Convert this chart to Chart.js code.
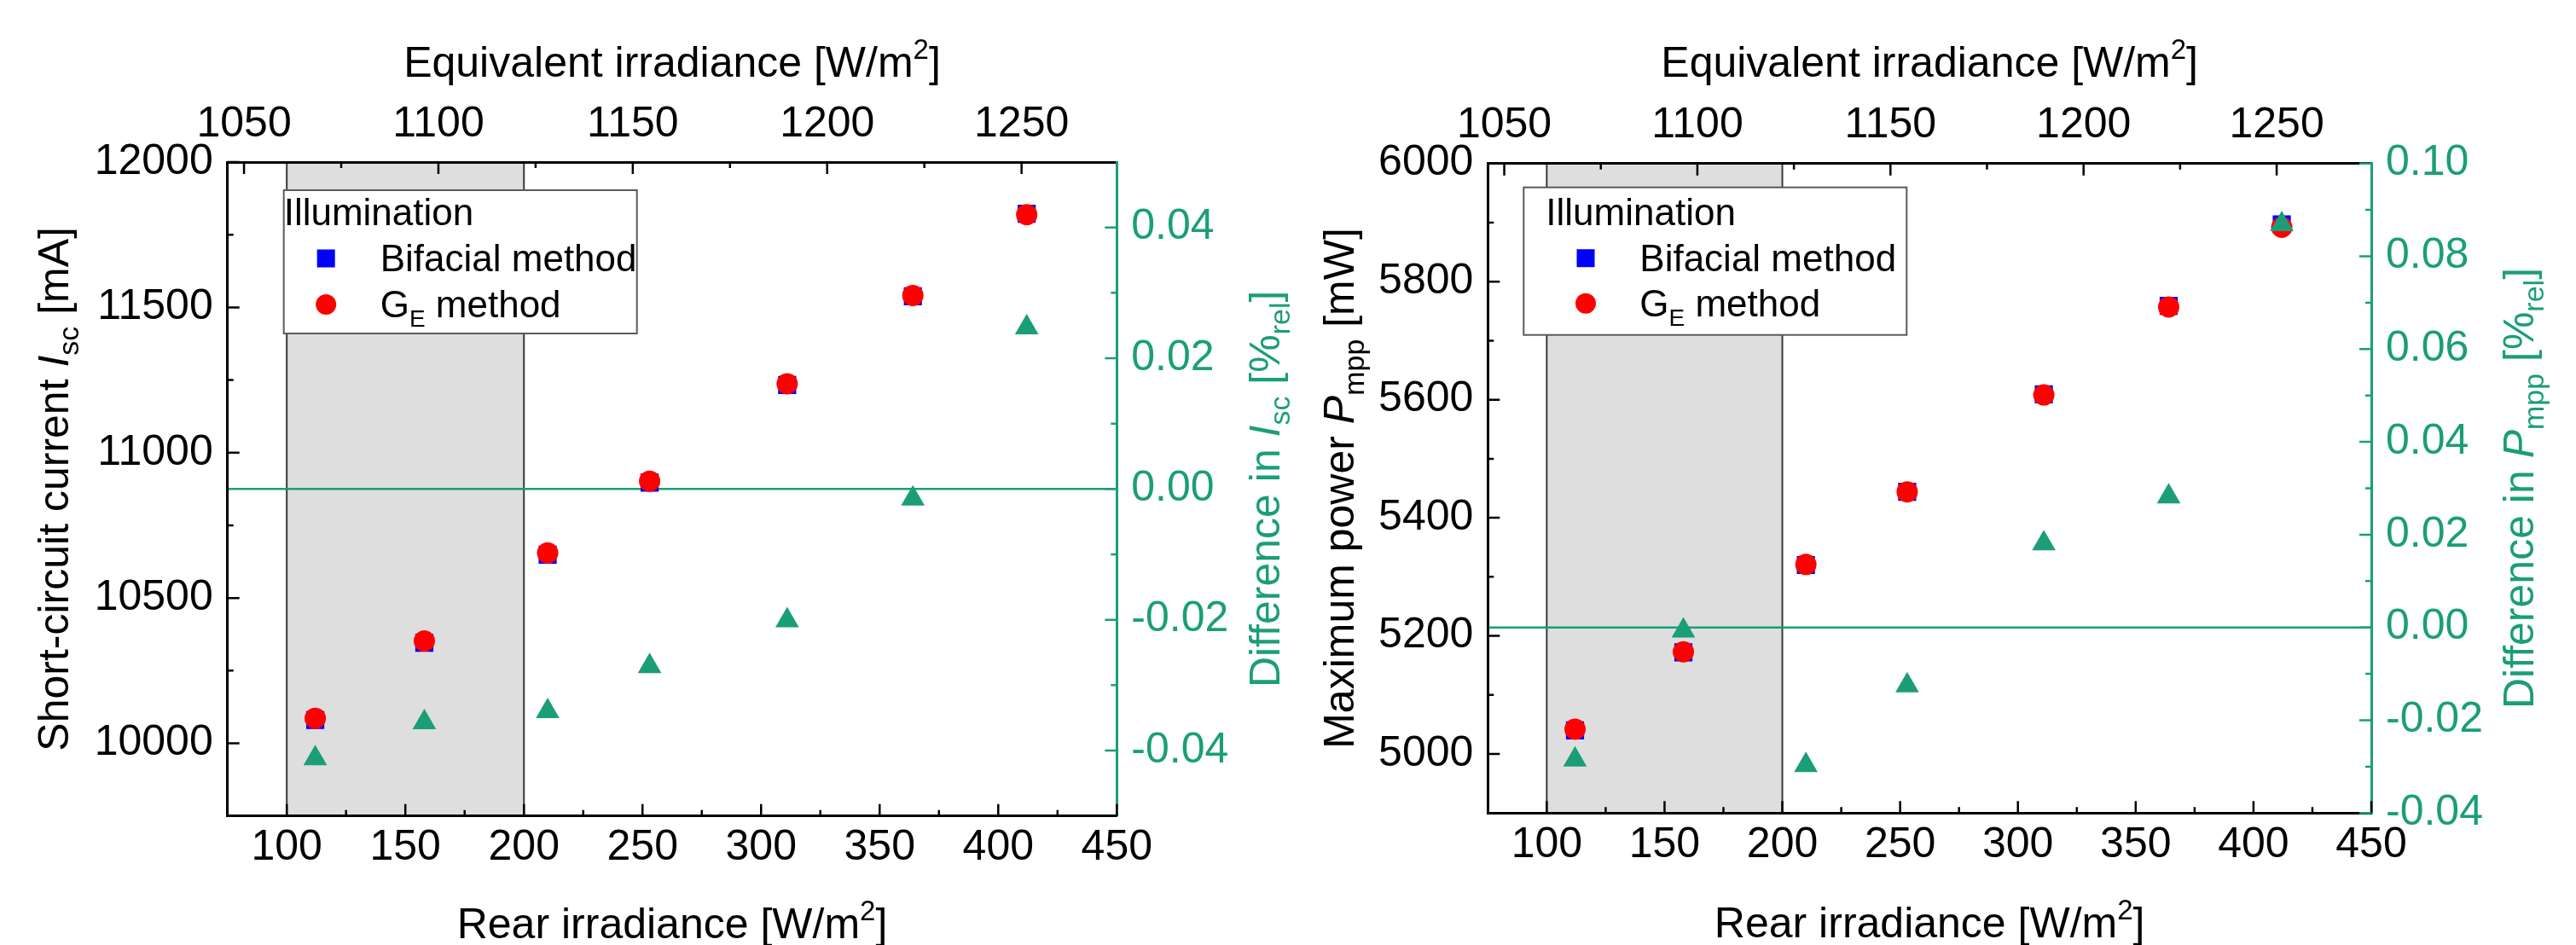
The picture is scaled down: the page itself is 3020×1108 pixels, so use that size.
<!DOCTYPE html>
<html>
<head>
<meta charset="utf-8">
<script src="https://cdn.jsdelivr.net/npm/chart.js@4/dist/chart.umd.min.js"></script>
<style>
  html, body { margin: 0; padding: 0; background: #ffffff; }
  #wrap { position: relative; width: 3020px; height: 1108px; overflow: hidden; background: #ffffff; }
  canvas { position: absolute; top: 0; }
  #c1 { left: 0; }
  #c2 { left: 1530px; }
</style>
</head>
<body>
<div id="wrap">
  <canvas id="c1" width="1530" height="1108"></canvas>
  <canvas id="c2" width="1490" height="1108"></canvas>
</div>
<script>
// ---------------- DATA ----------------
const rearIrradiance = [112, 158, 210, 253, 311, 364, 412];          // W/m2

const iscBifacial = [10080, 10346, 10649, 10897, 11233, 11538, 11822]; // mA
const iscGE       = [10086, 10352, 10655, 10902, 11237, 11541, 11819]; // mA
const iscDiff     = [-0.0412, -0.0357, -0.0340, -0.0271, -0.0201, -0.0015, 0.0247]; // %rel

const pmppBifacial = [5040, 5172, 5320, 5444, 5609, 5759, 5897];     // mW
const pmppGE       = [5042, 5173, 5321, 5444, 5608, 5757, 5892];     // mW
const pmppDiff     = [-0.0285, -0.0007, -0.0297, -0.0125, 0.0181, 0.0282, 0.0869]; // %rel

const shadedRange = [100, 200];                 // rear irradiance band
const rearRange = [75, 450];
const equivalentRange = [1045.75, 1274.5];      // top axis (equivalent irradiance)

const rearTicks = [100, 150, 200, 250, 300, 350, 400, 450];
const rearMinorTicks = [125, 175, 225, 275, 325, 375, 425];
const equivalentTicks = [1050, 1100, 1150, 1200, 1250];
const equivalentMinorTicks = [1075, 1125, 1175, 1225];

const iscRange = [9750, 12000];
const iscTicks = [10000, 10500, 11000, 11500, 12000];
const iscMinorTicks = [10250, 10750, 11250, 11750];
const iscDiffRange = [-0.05, 0.05];
const iscDiffTicks = [-0.04, -0.02, 0, 0.02, 0.04];
const iscDiffMinorTicks = [-0.03, -0.01, 0.01, 0.03];

const pmppRange = [4900, 6000];
const pmppTicks = [5000, 5200, 5400, 5600, 5800, 6000];
const pmppMinorTicks = [5100, 5300, 5500, 5700, 5900];
const pmppDiffRange = [-0.04, 0.10];
const pmppDiffTicks = [-0.04, -0.02, 0, 0.02, 0.04, 0.06, 0.08, 0.10];
const pmppDiffMinorTicks = [-0.03, -0.01, 0.01, 0.03, 0.05, 0.07, 0.09];

const legendTitle = 'Illumination';
const seriesNames = ['Bifacial method', 'GE method', 'Difference'];

// ---------------- STYLE ----------------
const FONT = "'Liberation Sans', Arial, Helvetica, sans-serif";
const GREEN = '#1b9e77';
const BLUE = '#0000ff';
const RED = '#ff0000';

function fontStr(size, italic) { return (italic ? 'italic ' : '') + size + 'px ' + FONT; }

function drawRich(ctx, parts, x, y, angle, color, baseSize, align) {
  ctx.save();
  ctx.translate(x, y);
  ctx.rotate(angle);
  ctx.textBaseline = 'alphabetic';
  ctx.textAlign = 'left';
  let total = 0;
  const items = parts.map(p => {
    const size = p.size || baseSize;
    ctx.font = fontStr(size, p.italic);
    const w = ctx.measureText(p.t).width;
    total += w;
    return { p, size, w };
  });
  let cx = align === 'left' ? 0 : -total / 2;
  for (const it of items) {
    ctx.font = fontStr(it.size, it.p.italic);
    ctx.fillStyle = it.p.color || color;
    ctx.fillText(it.p.t, cx, it.p.dy || 0);
    cx += it.w;
  }
  ctx.restore();
}

function drawTickMarks(chart, id, major, minor, color) {
  const s = chart.scales[id];
  const a = chart.chartArea;
  const ctx = chart.ctx;
  ctx.save();
  ctx.strokeStyle = color;
  ctx.lineWidth = 2.5;
  ctx.beginPath();
  const mark = (v, len) => {
    const p = s.getPixelForValue(v);
    if (s.position === 'bottom') { ctx.moveTo(p, a.bottom); ctx.lineTo(p, a.bottom - len); }
    else if (s.position === 'top') { ctx.moveTo(p, a.top); ctx.lineTo(p, a.top + len); }
    else if (s.position === 'left') { ctx.moveTo(a.left, p); ctx.lineTo(a.left + len, p); }
    else { ctx.moveTo(a.right, p); ctx.lineTo(a.right - len, p); }
  };
  major.forEach(v => mark(v, 14));
  minor.forEach(v => mark(v, 7));
  ctx.stroke();
  ctx.restore();
}

const decorPlugin = {
  id: 'decor',
  beforeDatasetsDraw(chart) {
    const c = chart.options.plugins.decor;
    const ctx = chart.ctx, a = chart.chartArea;
    const xs = chart.scales.x;
    // shaded band
    const x1 = xs.getPixelForValue(shadedRange[0]);
    const x2 = xs.getPixelForValue(shadedRange[1]);
    ctx.save();
    ctx.fillStyle = '#dedede';
    ctx.fillRect(x1, a.top, x2 - x1, a.bottom - a.top);
    ctx.strokeStyle = '#3a3a3a';
    ctx.lineWidth = 2;
    ctx.beginPath();
    ctx.moveTo(x1, a.top); ctx.lineTo(x1, a.bottom);
    ctx.moveTo(x2, a.top); ctx.lineTo(x2, a.bottom);
    ctx.stroke();
    // zero line of the difference axis
    const y0 = chart.scales.y2.getPixelForValue(0);
    ctx.strokeStyle = GREEN;
    ctx.lineWidth = 2.5;
    ctx.beginPath();
    ctx.moveTo(a.left, y0); ctx.lineTo(a.right, y0);
    ctx.stroke();
    ctx.restore();
  },
  afterDatasetsDraw(chart) {
    const c = chart.options.plugins.decor;
    const ctx = chart.ctx, a = chart.chartArea;
    const L = c.legend;
    const bx = a.left + L.dx, by = a.top + L.dy;
    ctx.save();
    ctx.fillStyle = '#ffffff';
    ctx.fillRect(bx, by, L.w, L.h);
    ctx.strokeStyle = '#5a5a5a';
    ctx.lineWidth = 2;
    ctx.strokeRect(bx, by, L.w, L.h);
    ctx.restore();
    drawRich(ctx, [{ t: legendTitle }], bx + L.titleX, by + L.titleY, 0, '#000', 44, 'left');
    // square marker
    ctx.save();
    ctx.fillStyle = BLUE;
    ctx.fillRect(bx + L.markerX - 10.5, by + L.row1 - 15 - 10.5, 21, 21);
    ctx.fillStyle = RED;
    ctx.beginPath();
    ctx.arc(bx + L.markerX, by + L.row2 - 15, 12, 0, Math.PI * 2);
    ctx.fill();
    ctx.restore();
    drawRich(ctx, [{ t: seriesNames[0] }], bx + L.textX, by + L.row1, 0, '#000', 44, 'left');
    drawRich(ctx, [{ t: 'G' }, { t: 'E', size: 28, dy: 11 }, { t: ' method' }], bx + L.textX, by + L.row2, 0, '#000', 44, 'left');
  },
  afterDraw(chart) {
    const c = chart.options.plugins.decor;
    const ctx = chart.ctx, a = chart.chartArea;
    drawTickMarks(chart, 'x', rearTicks, rearMinorTicks, '#000');
    drawTickMarks(chart, 'x2', equivalentTicks, equivalentMinorTicks, '#000');
    drawTickMarks(chart, 'y', c.yTicks, c.yMinor, '#000');
    drawTickMarks(chart, 'y2', c.y2Ticks, c.y2Minor, GREEN);
    const cx = (a.left + a.right) / 2, cy = (a.top + a.bottom) / 2;
    const sup = { t: '2', size: 33, dy: -21 };
    drawRich(ctx, [{ t: 'Rear irradiance [W/m' }, sup, { t: ']' }], cx, c.titles.bottomY, 0, '#000', 50);
    drawRich(ctx, [{ t: 'Equivalent irradiance [W/m' }, sup, { t: ']' }], cx, c.titles.topY, 0, '#000', 50);
    drawRich(ctx, c.titles.leftParts, c.titles.leftX, cy, -Math.PI / 2, '#000', 50);
    drawRich(ctx, c.titles.rightParts, c.titles.rightX, cy, -Math.PI / 2, GREEN, 50);
  }
};

function tickSetter(arr) {
  return s => { s.ticks = arr.map(v => ({ value: v })); };
}

function makeChart(id, cfg) {
  const tickFont = { family: FONT, size: 50 };
  const border = (color) => ({ display: true, color: color, width: 3, z: 1 });
  const grid = { display: false, drawTicks: false, drawOnChartArea: false };
  return new Chart(document.getElementById(id), {
    type: 'scatter',
    data: {
      datasets: [
        {
          label: seriesNames[2],
          data: rearIrradiance.map((x, i) => ({ x, y: cfg.diff[i] })),
          yAxisID: 'y2', xAxisID: 'x',
          pointStyle: 'triangle', pointRadius: 16, pointBorderWidth: 0,
          backgroundColor: GREEN, borderColor: GREEN, order: 0
        },
        {
          label: seriesNames[1],
          data: rearIrradiance.map((x, i) => ({ x, y: cfg.ge[i] })),
          yAxisID: 'y', xAxisID: 'x',
          pointStyle: 'circle', pointRadius: 12.5, pointBorderWidth: 0,
          backgroundColor: RED, borderColor: RED, order: 1
        },
        {
          label: seriesNames[0],
          data: rearIrradiance.map((x, i) => ({ x, y: cfg.bif[i] })),
          yAxisID: 'y', xAxisID: 'x',
          pointStyle: 'rect', pointRadius: 15, pointBorderWidth: 0,
          backgroundColor: BLUE, borderColor: BLUE, order: 2
        }
      ]
    },
    options: {
      responsive: false,
      animation: false,
      events: [],
      devicePixelRatio: 1,
      layout: { padding: 0 },
      plugins: {
        legend: { display: false },
        tooltip: { enabled: false },
        decor: cfg.decor
      },
      scales: {
        x: {
          type: 'linear', position: 'bottom', min: rearRange[0], max: rearRange[1],
          afterBuildTicks: tickSetter(rearTicks),
          afterFit: s => { s.height = cfg.bottomH; },
          grid, border: border('#000'),
          ticks: { color: '#000', font: tickFont, padding: 8, maxRotation: 0, autoSkip: false, callback: v => String(v) }
        },
        x2: {
          type: 'linear', axis: 'x', position: 'top', min: equivalentRange[0], max: equivalentRange[1],
          afterBuildTicks: tickSetter(equivalentTicks),
          afterFit: s => { s.height = cfg.topH; },
          grid, border: border('#000'),
          ticks: { color: '#000', font: tickFont, padding: 14, maxRotation: 0, autoSkip: false, callback: v => String(v) }
        },
        y: {
          type: 'linear', position: 'left', min: cfg.yRange[0], max: cfg.yRange[1],
          afterBuildTicks: tickSetter(cfg.yTicks),
          afterFit: s => { s.width = cfg.leftW; },
          grid, border: border('#000'),
          ticks: { color: '#000', font: tickFont, padding: 17, autoSkip: false, callback: v => String(v) }
        },
        y2: {
          type: 'linear', axis: 'y', position: 'right', min: cfg.y2Range[0], max: cfg.y2Range[1],
          afterBuildTicks: tickSetter(cfg.y2Ticks),
          afterFit: s => { s.width = cfg.rightW; },
          grid, border: border(GREEN),
          ticks: { color: GREEN, font: tickFont, padding: 17, autoSkip: false, callback: v => Number(v).toFixed(2) }
        }
      }
    },
    plugins: [decorPlugin]
  });
}

makeChart('c1', {
  bif: iscBifacial, ge: iscGE, diff: iscDiff,
  yRange: iscRange, yTicks: iscTicks, y2Range: iscDiffRange, y2Ticks: iscDiffTicks,
  leftW: 266.7, rightW: 1530 - 1309.3, topH: 190, bottomH: 1108 - 956.7,
  decor: {
    yTicks: iscTicks, yMinor: iscMinorTicks, y2Ticks: iscDiffTicks, y2Minor: iscDiffMinorTicks,
    legend: { dx: 66, dy: 33, w: 414, h: 168, titleX: 0, titleY: 41, markerX: 49.5, textX: 113, row1: 95, row2: 149 },
    titles: {
      bottomY: 1100, topY: 90, leftX: 80, rightX: 1500,
      leftParts: [{ t: 'Short-circuit current ' }, { t: 'I', italic: true }, { t: 'sc', size: 34, dy: 12 }, { t: ' [mA]' }],
      rightParts: [{ t: 'Difference in ' }, { t: 'I', italic: true }, { t: 'sc', size: 34, dy: 12 }, { t: ' [%' }, { t: 'rel', size: 34, dy: 12 }, { t: ']' }]
    }
  }
});

makeChart('c2', {
  bif: pmppBifacial, ge: pmppGE, diff: pmppDiff,
  yRange: pmppRange, yTicks: pmppTicks, y2Range: pmppDiffRange, y2Ticks: pmppDiffTicks,
  leftW: 1744.3 - 1530, rightW: 3020 - 2780, topH: 191.7, bottomH: 1108 - 953.3,
  decor: {
    yTicks: pmppTicks, yMinor: pmppMinorTicks, y2Ticks: pmppDiffTicks, y2Minor: pmppDiffMinorTicks,
    legend: { dx: 42, dy: 28, w: 449, h: 173, titleX: 26, titleY: 44, markerX: 72.7, textX: 136, row1: 98, row2: 151 },
    titles: {
      bottomY: 1099, topY: 90, leftX: 1587 - 1530, rightX: 2970 - 1530,
      leftParts: [{ t: 'Maximum power ' }, { t: 'P', italic: true }, { t: 'mpp', size: 34, dy: 12 }, { t: ' [mW]' }],
      rightParts: [{ t: 'Difference in ' }, { t: 'P', italic: true }, { t: 'mpp', size: 34, dy: 12 }, { t: ' [%' }, { t: 'rel', size: 34, dy: 12 }, { t: ']' }]
    }
  }
});
</script>
</body>
</html>
